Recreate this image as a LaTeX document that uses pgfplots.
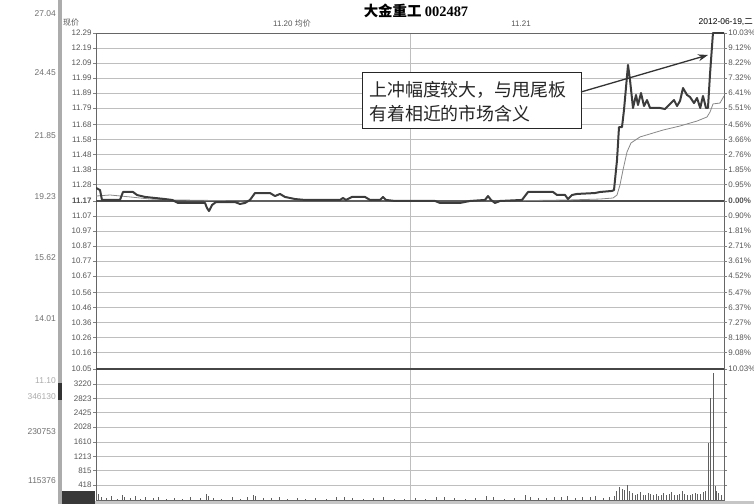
\documentclass[border=0pt]{standalone}
\usepackage{pgfplots}
\pgfplotsset{compat=1.18}
\usepackage{fontspec}
\usetikzlibrary{arrows.meta}
\setmainfont{Liberation Sans}
\newfontfamily\cjk{Noto Sans CJK SC}
\newfontfamily\serifb{Liberation Serif}
\definecolor{gridc}{RGB}{190,190,190}
\definecolor{txt}{RGB}{85,85,85}
\definecolor{pricec}{RGB}{60,60,60}
\definecolor{avgc}{RGB}{135,135,135}
\newcommand{\tkfont}{\fontsize{8}{9}\selectfont}

\pgfplotsset{
  chartbase/.style={
    scale only axis, width=628bp, xmin=0, xmax=240,
    tick align=outside, major tick length=3bp,
    ytick style={draw=gray, line width=0.5bp},
    yticklabel style={font=\tkfont, text=txt, inner sep=1.2bp},
  }
}

\begin{document}
\begin{tikzpicture}[x=1bp,y=1bp]
\useasboundingbox (0,0) rectangle (754,504);

% price panel
\begin{axis}[chartbase, at={(96bp,135bp)}, anchor=south west, height=336bp,
  ymin=10.05, ymax=12.29,
  xtick={120}, xticklabels={}, xtick style={draw=none}, xmajorgrids,
  ytick={10.05,10.16,10.26,10.36,10.46,10.56,10.67,10.77,10.87,10.97,11.07,11.17,11.28,11.38,11.48,11.58,11.68,11.79,11.89,11.99,12.09,12.19,12.29},
  yticklabels={10.05,10.16,10.26,10.36,10.46,10.56,10.67,10.77,10.87,10.97,11.07,\textbf{11.17},11.28,11.38,11.48,11.58,11.68,11.79,11.89,11.99,12.09,12.19,12.29},
  ymajorgrids, grid style={gridc, line width=0.5bp},
  axis line style={draw=gray!80!black, line width=0.8bp}]
\draw[gray!60!black, line width=1.3bp] (axis cs:0,11.17) -- (axis cs:240,11.17);
% average price
\addplot[avgc, line width=0.8bp] coordinates {
(0,11.203) (5.35,11.21) (12.99,11.197) (20.64,11.183) (30.19,11.177) (58.85,11.17)
(116.18,11.17) (154.40,11.17) (181.15,11.177) (192.61,11.183) (197.58,11.19)
(199.11,11.21) (200.25,11.277) (201.40,11.377) (202.93,11.497) (204.46,11.557)
(207.90,11.597) (216.69,11.643) (223.19,11.67) (229.68,11.703) (233.50,11.73)
(234.65,11.763) (235.80,11.817) (238.47,11.823) (240,11.87)};
% price
\addplot[pricec, line width=2bp, line join=round] coordinates {
(0,11.257) (1.53,11.243) (2.29,11.177) (9.17,11.177) (10.32,11.23) (14.14,11.23)
(15.67,11.21) (18.73,11.197) (22.55,11.19) (26.37,11.183) (29.04,11.177)
(31.34,11.157) (41.66,11.157) (42.42,11.123) (43.18,11.103) (44.33,11.143)
(45.86,11.163) (53.12,11.163) (55.03,11.15) (56.94,11.157) (58.85,11.177)
(60.76,11.223) (66.50,11.223) (68.41,11.203) (70.32,11.217) (72.23,11.197)
(76.05,11.183) (79.87,11.177) (93.25,11.177) (94.39,11.19) (95.54,11.177)
(97.83,11.197) (102.80,11.197) (104.71,11.177) (108.53,11.177) (109.68,11.197)
(110.83,11.177) (114.27,11.17) (129.56,11.17) (131.47,11.157) (139.11,11.157)
(142.93,11.17) (148.66,11.177) (149.81,11.203) (150.95,11.177) (152.48,11.157)
(154.40,11.17) (162.80,11.177) (165.10,11.23) (174.65,11.23) (176.18,11.21)
(179.24,11.21) (180.38,11.183) (181.91,11.21) (183.82,11.217) (190.70,11.223)
(192.61,11.23) (197.20,11.237) (197.96,11.243) (199.11,11.443) (199.87,11.663)
(201.02,11.663) (201.78,11.777) (203.31,12.077) (204.07,11.977) (205.22,11.79)
(206.37,11.877) (207.13,11.81) (208.28,11.89) (209.42,11.803) (210.57,11.843)
(211.72,11.79) (215.54,11.79) (217.45,11.783) (219.36,11.817) (220.89,11.843)
(222.04,11.803) (223.19,11.837) (224.33,11.923) (225.86,11.877) (227.01,11.863)
(228.54,11.823) (229.68,11.857) (230.91,11.79) (231.96,11.87) (233.11,11.79)
(233.87,11.79) (234.63,12.01) (235.78,12.29) (240,12.29)};
\end{axis}

% percent scale on the right
\begin{axis}[chartbase, at={(96bp,135bp)}, anchor=south west, height=336bp,
  ymin=10.05, ymax=12.29, hide x axis, axis y line*=right,
  axis line style={draw=none},
  ytick={10.05,10.16,10.26,10.36,10.46,10.56,10.67,10.77,10.87,10.97,11.07,11.17,11.28,11.38,11.48,11.58,11.68,11.79,11.89,11.99,12.09,12.19,12.29},
  yticklabels={10.03\%,9.08\%,8.18\%,7.27\%,6.37\%,5.47\%,4.52\%,3.61\%,2.71\%,1.81\%,0.90\%,\textbf{0.00\%},0.95\%,1.85\%,2.76\%,3.66\%,4.56\%,5.51\%,6.41\%,7.32\%,8.22\%,9.12\%,10.03\%},
  yticklabel style={anchor=west}]
\addplot[draw=none] coordinates {(0,11.17)};
\end{axis}

% volume panel
\begin{axis}[chartbase, at={(96bp,4bp)}, anchor=south west, height=131bp,
  ymin=0, ymax=3636,
  xtick={120}, xticklabels={}, xtick style={draw=none}, xmajorgrids,
  ytick={418,815,1213,1610,2028,2425,2823,3220},
  yticklabels={418,815,1213,1610,2028,2425,2823,3220},
  ymajorgrids, grid style={gridc, line width=0.5bp},
  axis line style={draw=gray!80!black, line width=0.8bp}]
\addplot[ycomb, avgc!70!black, line width=0.7bp, mark=none] coordinates {
(1,180) (2,90) (4,60) (6,120) (8,40) (10,150) (11,80) (13,60) (15,100) (17,40)
(19,70) (22,50) (24,90) (27,40) (30,60) (33,30) (36,80) (40,50) (42,160) (43,120)
(45,60) (48,40) (52,70) (55,40) (58,90) (60,140) (61,100) (64,60) (67,50) (70,80)
(73,40) (77,60) (80,30) (84,50) (88,40) (92,70) (95,90) (98,60) (102,40) (106,50)
(110,80) (114,40) (118,30) (122,60) (126,40) (130,70) (133,90) (137,50) (141,40)
(145,60) (149,120) (152,80) (156,40) (160,60) (164,130) (166,80) (169,60) (172,50)
(175,90) (178,70) (180,110) (183,60) (186,80) (189,70) (191,100) (194,60) (196,90)
(198,120) (199,260) (200,350) (201,300) (202,280) (203,420) (204,250) (205,200)
(206,150) (207,180) (208,220) (209,150) (210,130) (211,200) (212,160) (213,140)
(214,180) (215,120) (216,150) (217,190) (218,130) (219,170) (220,210) (221,150)
(222,140) (223,180) (224,250) (225,170) (226,150) (227,140) (228,160) (229,200)
(230,180) (231,160) (232,210) (233,240) (234,1580) (234.7,2830) (235.8,3530)
(236.5,380) (237,260) (238,200) (239,150) (240,120)};
\end{axis}
\draw[gray!55!black, line width=1.4bp] (96,135) -- (724,135);

% window furniture on the left and bottom
\fill[gray!65] (58,0) rectangle (61.5,504);
\fill[black!80] (58,104) rectangle (61.5,121);
\fill[black!78] (62,0) rectangle (95,13);
\fill[gray!45] (95,0) rectangle (754,3);
\begin{scope}[every node/.style={font=\fontsize{8.5}{9}\selectfont, text=txt!85, anchor=east, inner sep=0}]
\node at (56,490) {27.04};
\node at (56,431) {24.45};
\node at (56,368) {21.85};
\node at (56,307) {19.23};
\node at (56,246) {15.62};
\node at (56,185) {14.01};
\node[text=txt!50] at (56,123) {11.10};
\node[text=txt!50] at (56,107) {346130};
\node at (56,72) {230753};
\node at (56,23) {115376};
\end{scope}

% header texts
\node[font=\fontsize{14.5}{16}\selectfont] at (416,493) {\cjk\bfseries 大金重工 \serifb\bfseries 002487};
\node[font=\tkfont, text=txt] at (71,481) {\cjk 现价};
\node[font=\tkfont, text=txt] at (292,480) {11.20 {\cjk 均价}};
\node[font=\tkfont, text=txt] at (521,480) {11.21};
\node[font=\fontsize{8.5}{9}\selectfont, anchor=east, inner sep=0] at (753,482) {2012-06-19,{\cjk 二}};

% annotation
\draw[black!85, line width=0.7bp, fill=white] (362,376) rectangle (581,432);
\node[anchor=west, inner sep=0, font=\fontsize{18}{20}\selectfont, text=black!85] at (369,414) {\cjk 上冲幅度较大，与甩尾板};
\node[anchor=west, inner sep=0, font=\fontsize{18}{20}\selectfont, text=black!85] at (369,390) {\cjk 有着相近的市场含义};
\draw[-{Stealth[length=10bp,width=7bp]}, line width=1.3bp, black!80] (581,412) -- (708,449);
\end{tikzpicture}
\end{document}
